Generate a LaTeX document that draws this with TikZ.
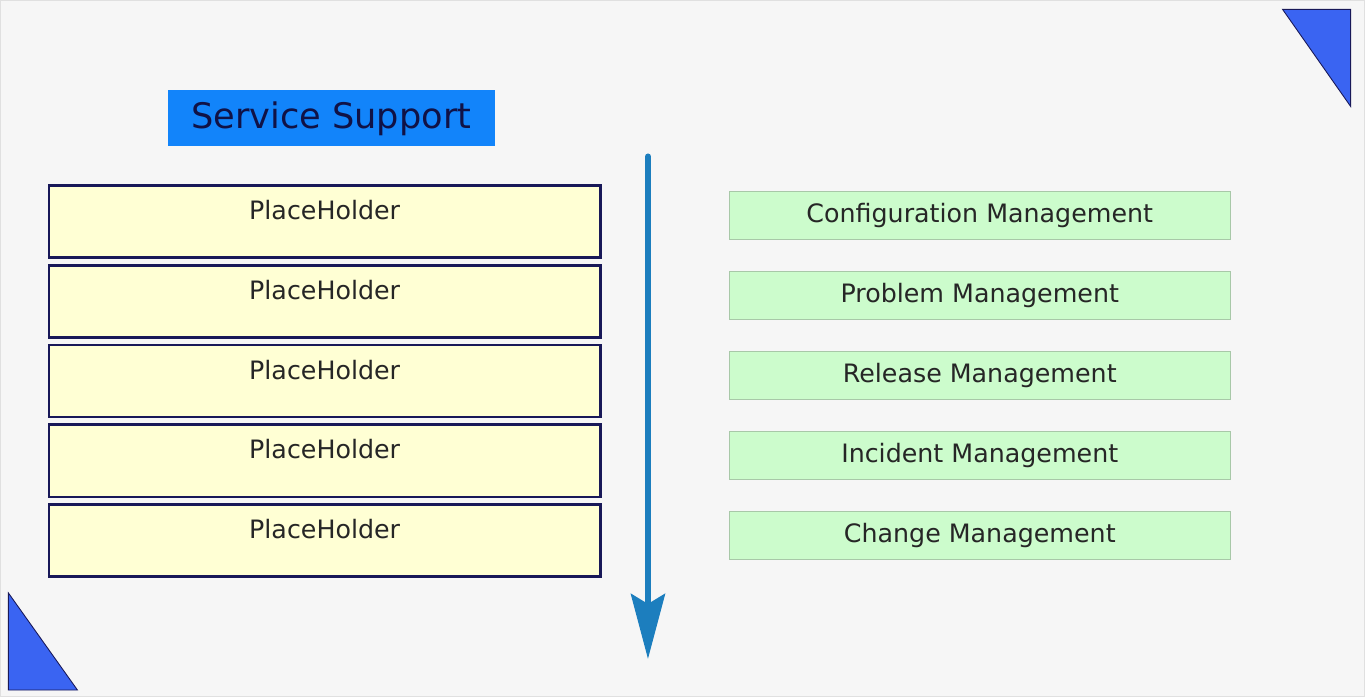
\documentclass[tikz,border=0pt]{standalone}
\usepackage{fontspec}
\setmainfont{DejaVu Sans}
\usetikzlibrary{matrix,arrows.meta}
\definecolor{pagebg}{RGB}{246,246,246}
\definecolor{titleblue}{RGB}{18,132,250}
\definecolor{titletext}{RGB}{16,18,70}
\definecolor{holderfill}{RGB}{255,255,212}
\definecolor{holderline}{RGB}{24,24,88}
\definecolor{mgmtfill}{RGB}{204,252,204}
\definecolor{mgmtline}{RGB}{168,200,168}
\definecolor{flowblue}{RGB}{28,126,190}
\definecolor{cornerblue}{RGB}{58,100,242}
\begin{document}
\begin{tikzpicture}[x=0.02cm,y=-0.02cm]
\tikzstyle{every node}=[font=\fontsize{14.4}{17}\selectfont, text=black!85]
\tikzstyle{holder}=[draw=holderline, fill=holderfill, line width=1.6pt,
minimum width=11.02cm, inner sep=0.1cm, text height=0.58cm, text depth=0.66cm]
\tikzstyle{mgmt}=[draw=mgmtline, fill=mgmtfill, line width=0.6pt,
minimum width=10.02cm, minimum height=0.96cm, inner sep=0pt]
\tikzstyle{corner}=[fill=cornerblue, draw=holderline, line width=0.5pt]

% page
\fill[pagebg, draw=black!12] (1,1) rectangle (1364,696);

% title
\node[fill=titleblue, text=titletext, minimum width=6.54cm, minimum height=1.12cm,
font=\fontsize{20}{22}\selectfont] (title) at (331.5,119) {Service Support};

% left column
\matrix (holders) [matrix of nodes, nodes={holder}, inner sep=0pt, row sep=0.1cm,
anchor=north] at (325,184)
{
PlaceHolder \\
PlaceHolder \\
PlaceHolder \\
PlaceHolder \\
PlaceHolder \\
};

% right column
\matrix (procs) [matrix of nodes, nodes={mgmt}, inner sep=0pt, row sep=0.62cm,
anchor=north] at (979.5,191)
{
Configuration Management \\
Problem Management \\
Release Management \\
Incident Management \\
Change Management \\
};

% flow
\coordinate (flowtop) at (648,157);
\coordinate (flowend) at (648,659);
\draw[flowblue, line width=0.12cm, line cap=round,
-{Stealth[length=1.3cm, width=0.68cm, inset=0.2cm]}] (flowtop) -- (flowend);

% corners
\draw[corner] (1282,10) -- (1350,10) -- (1350,107) -- cycle;
\draw[corner] (9,593) -- (9,690) -- (78,690) -- cycle;

\end{tikzpicture}
\end{document}
